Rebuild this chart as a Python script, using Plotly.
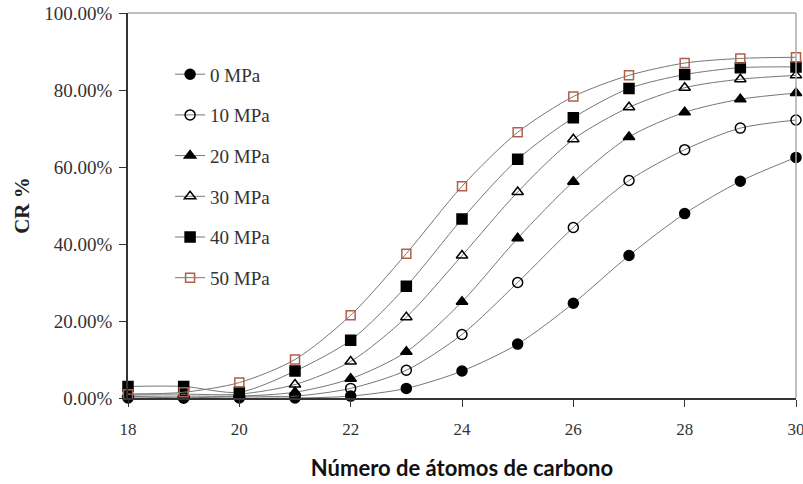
import plotly.graph_objects as go

carbons = list(range(18, 31))
series_names = ["0 MPa", "10 MPa", "20 MPa", "30 MPa", "40 MPa", "50 MPa"]
cr_0 = [0.000, 0.000, 0.000, 0.000, 0.005, 0.025, 0.070, 0.140, 0.246, 0.370, 0.479, 0.563, 0.625]
cr_10 = [0.005, 0.000, 0.005, 0.005, 0.025, 0.072, 0.165, 0.300, 0.443, 0.565, 0.645, 0.701, 0.722]
cr_20 = [0.005, 0.005, 0.005, 0.015, 0.050, 0.120, 0.250, 0.415, 0.562, 0.678, 0.742, 0.776, 0.792]
cr_30 = [0.010, 0.010, 0.010, 0.035, 0.095, 0.210, 0.370, 0.535, 0.672, 0.755, 0.806, 0.828, 0.838]
cr_40 = [0.030, 0.030, 0.015, 0.070, 0.150, 0.290, 0.465, 0.620, 0.728, 0.804, 0.840, 0.858, 0.860]
cr_50 = [0.010, 0.015, 0.040, 0.100, 0.215, 0.375, 0.550, 0.690, 0.783, 0.838, 0.870, 0.882, 0.885]
all_series = [cr_0, cr_10, cr_20, cr_30, cr_40, cr_50]

symbols = ["circle", "circle-open", "triangle-up", "triangle-up-open", "square", "square-open"]
marker_colors = ["#000000", "#000000", "#000000", "#000000", "#000000", "#B0604A"]
sizes = [10, 10, 10, 10, 10, 9]

fig = go.Figure()
for name, vals, sym, col, sz in zip(series_names, all_series, symbols, marker_colors, sizes):
    fig.add_trace(go.Scatter(
        x=carbons, y=vals, name=name, legendgroup=name,
        mode="lines+markers", cliponaxis=False,
        line=dict(color="#777777", width=1, shape="spline", smoothing=0.8),
        marker=dict(symbol=sym, size=sz, color=col,
                    line=dict(color=col, width=1.5)),
    ))

fig.update_layout(
    width=803, height=484, autosize=False,
    margin=dict(l=128, r=7, t=13, b=86, autoexpand=False),
    paper_bgcolor="white", plot_bgcolor="white",
    font=dict(family="Liberation Serif", size=16, color="#333333"),
    showlegend=True,
    legend=dict(x=0.063, y=0.89, xanchor="left", yanchor="top",
                bgcolor="rgba(0,0,0,0)", tracegroupgap=13,
                font=dict(family="Liberation Serif", size=19, color="#333333")),
    xaxis=dict(range=[18, 30], tickmode="array", tickvals=list(range(18, 31, 2)),
               ticks="outside", ticklen=7, tickcolor="#333333",
               tickfont=dict(family="Liberation Serif", size=17, color="#333333"),
               ticklabelstandoff=8, ticklabeloverflow="allow",
               showline=True, linecolor="#333333", linewidth=1.5, automargin=False,
               showgrid=False, zeroline=False, mirror=False,
               title=dict(text="<b>Número de átomos de carbono</b>",
                          font=dict(family="Lato", size=22, color="#111111"),
                          standoff=22)),
    yaxis=dict(range=[0, 1.0], tickmode="array", tickvals=[0, 0.2, 0.4, 0.6, 0.8, 1.0],
               tickformat=".2%", ticks="outside", ticklen=7, tickcolor="#333333",
               tickfont=dict(family="Liberation Serif", size=19, color="#333333"),
               ticklabelstandoff=3, automargin=False,
               showline=True, linecolor="#333333", linewidth=1.5,
               showgrid=False, zeroline=False,
               title=dict(text="<b>CR %</b>",
                          font=dict(family="Liberation Serif", size=21, color="#222222"),
                          standoff=9)),
    shapes=[
        dict(type="line", xref="paper", yref="paper", x0=0, x1=1, y0=1, y1=1,
             line=dict(color="#aaaaaa", width=1.5)),
        dict(type="line", xref="paper", yref="paper", x0=1, x1=1, y0=0, y1=1,
             line=dict(color="#aaaaaa", width=1.5)),
    ],
)

fig.write_html("out.html", config={"displayModeBar": False},
               post_script="document.body.style.margin='0';document.body.style.overflow='hidden';")
